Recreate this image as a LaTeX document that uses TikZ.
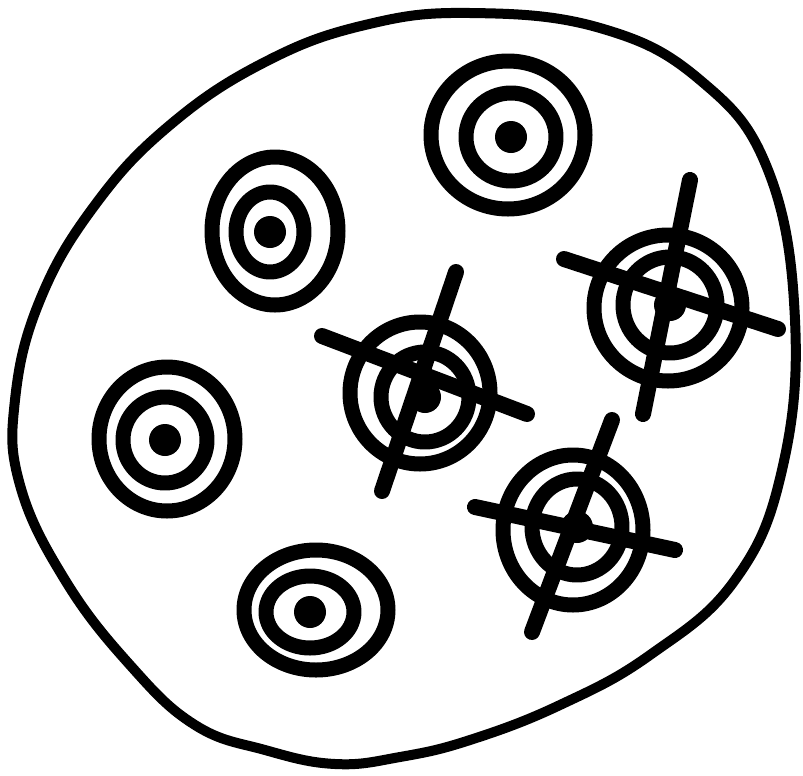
\documentclass[tikz,border=0pt]{standalone}
\usetikzlibrary{calc}

\begin{document}
\begin{tikzpicture}[x=0.03cm, y=-0.03cm, line cap=round, line join=round]

  \def\outw{0.3cm}     % outline of the blob
  \def\ringw{0.45cm}   % rings of a target
  \def\crossw{0.48cm}  % cross strokes

  \useasboundingbox (0,0) rectangle (803,776);

  \tikzset{
    blob/.style={line width=\outw},
    ring/.style={line width=\ringw},
    hair/.style={line width=\crossw}
  }

  % Blob outline
  \draw[blob] plot[smooth cycle, tension=0.7] coordinates {
    (470,13) (600,28) (700,80) (768,170) (795,320) (782,470)
    (735,580) (650,655) (560,705) (470,740) (400,757) (335,764)
    (265,750) (195,725) (130,665) (65,580) (20,485) (15,400)
    (40,300) (95,205) (170,125) (265,62) (365,25)};

  % Targets: centre x / centre y / outer rx / outer ry / inner rx / inner ry / dot x / dot y
  \foreach \cx/\cy/\ox/\oy/\ix/\iy/\dx/\dy in {
      508/135/77/74/45/44/511/137,
      275/231/63/74/34/40/270/232,
      167/439/68/72/42/43/165/440,
      316/610/72/60/44/36/310/612,
      420/393/70/71/44/45/425/397,
      668/308/74/73/47/48/670/305,
      573/530/70/75/45/48/577/527} {
    \draw[ring] (\cx,\cy) ellipse[x radius=\ox, y radius=\oy];
    \draw[ring] (\dx,\dy) ellipse[x radius=\ix, y radius=\iy];
    \fill (\dx,\dy) circle(16);
  }

  % Cross ends
  \coordinate (midW) at (322,336);  \coordinate (midE) at (527,414);
  \coordinate (midN) at (456,272);  \coordinate (midS) at (382,491);
  \coordinate (rgtW) at (564,259);  \coordinate (rgtE) at (778,329);
  \coordinate (rgtN) at (690,180);  \coordinate (rgtS) at (643,414);
  \coordinate (lowW) at (475,507);  \coordinate (lowE) at (675,550);
  \coordinate (lowN) at (612,420);  \coordinate (lowS) at (532,632);

  % Crosses over three of the targets
  \foreach \t in {mid, rgt, low} {
    \draw[hair] (\t W) -- (\t E);
    \draw[hair] (\t N) -- (\t S);
  }

\end{tikzpicture}
\end{document}
